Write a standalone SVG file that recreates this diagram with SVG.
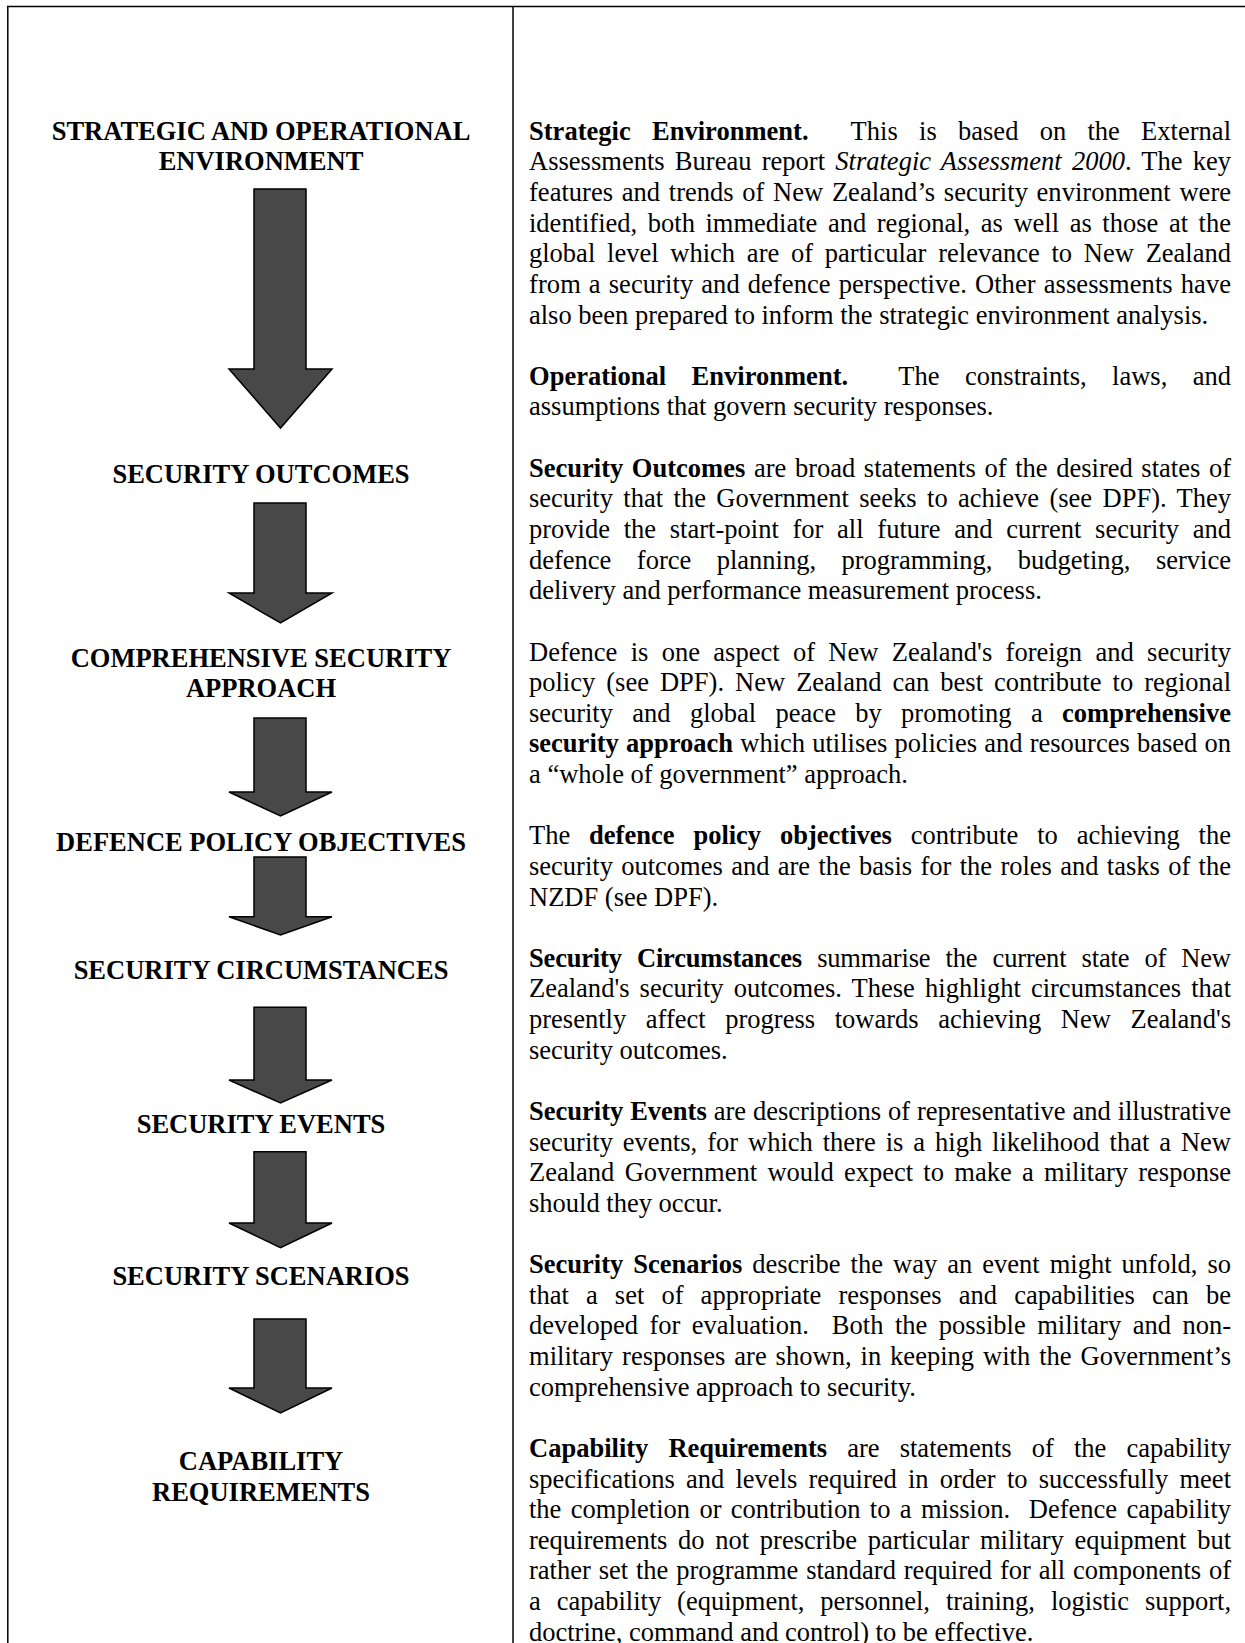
<svg xmlns="http://www.w3.org/2000/svg" width="1245" height="1643" viewBox="0 0 1245 1643">
<style>
  .frame { stroke: #000; stroke-width: 1.5; fill: none; }
  .lbl { font-family: "Liberation Serif", "Times New Roman", serif; font-size: 26.5px; font-weight: bold; text-anchor: middle; fill: #000; }
  .txt { font-family: "Liberation Serif", "Times New Roman", serif; font-size: 26.5px; fill: #000; }
  .b { font-weight: bold; }
  .i { font-style: italic; }
  .arrow { fill: #484848; stroke: #000; stroke-width: 1.5; stroke-linejoin: miter; }
</style>
<rect width="1245" height="1643" fill="#fff"/>
<g id="frame">
  <line class="frame" x1="7" y1="6.5" x2="1245" y2="6.5"/>
  <line class="frame" x1="7.8" y1="6" x2="7.8" y2="1643"/>
  <line class="frame" x1="513" y1="6" x2="513" y2="1643"/>
</g>
<g id="connectors">
  <path class="arrow" d="M254,189 H306 V369 H332 L280.5,428 L229,369 H254 Z"/>
  <path class="arrow" d="M254,503 H306 V593 H332 L280.5,623 L229,593 H254 Z"/>
  <path class="arrow" d="M254,718 H306 V792 H332 L280.5,816 L229,792 H254 Z"/>
  <path class="arrow" d="M254,857 H306 V916.7 H332 L280.5,935 L229,916.7 H254 Z"/>
  <path class="arrow" d="M254,1007.3 H306 V1080 H332 L280.5,1103 L229,1080 H254 Z"/>
  <path class="arrow" d="M254,1151.7 H306 V1223 H332 L280.5,1247.7 L229,1223 H254 Z"/>
  <path class="arrow" d="M254,1319 H306 V1388 H332 L280.5,1413 L229,1388 H254 Z"/>
</g>
<g id="node-strategic-environment">
  <text class="lbl" x="261" y="139.8">STRATEGIC AND OPERATIONAL</text>
  <text class="lbl" x="261" y="170.4">ENVIRONMENT</text>
</g>
<g id="node-security-outcomes">
  <text class="lbl" x="261" y="482.5">SECURITY OUTCOMES</text>
</g>
<g id="node-comprehensive-security">
  <text class="lbl" x="261" y="667">COMPREHENSIVE SECURITY</text>
  <text class="lbl" x="261" y="697.3">APPROACH</text>
</g>
<g id="node-defence-policy">
  <text class="lbl" x="261" y="851.4">DEFENCE POLICY OBJECTIVES</text>
</g>
<g id="node-security-circumstances">
  <text class="lbl" x="261" y="979.2">SECURITY CIRCUMSTANCES</text>
</g>
<g id="node-security-events">
  <text class="lbl" x="261" y="1133.3">SECURITY EVENTS</text>
</g>
<g id="node-security-scenarios">
  <text class="lbl" x="261" y="1285">SECURITY SCENARIOS</text>
</g>
<g id="node-capability-requirements">
  <text class="lbl" x="261" y="1469.7">CAPABILITY</text>
  <text class="lbl" x="261" y="1501.1">REQUIREMENTS</text>
</g>
<g id="desc-strategic">
  <text class="txt" x="529" y="139.8" textLength="702" lengthAdjust="spacing" xml:space="preserve" style="word-spacing:14.6px"><tspan class="b">Strategic Environment.</tspan>  This is based on the External</text>
  <text class="txt" x="529" y="170.43" textLength="702" lengthAdjust="spacing" style="word-spacing:3.56px">Assessments Bureau report <tspan class="i">Strategic Assessment 2000</tspan>. The key</text>
  <text class="txt" x="529" y="201.06" textLength="702" lengthAdjust="spacing" style="word-spacing:2.02px">features and trends of New Zealand’s security environment were</text>
  <text class="txt" x="529" y="231.69" textLength="702" lengthAdjust="spacing" style="word-spacing:3.96px">identified, both immediate and regional, as well as those at the</text>
  <text class="txt" x="529" y="262.32" textLength="702" lengthAdjust="spacing" style="word-spacing:5.15px">global level which are of particular relevance to New Zealand</text>
  <text class="txt" x="529" y="292.95" textLength="702" lengthAdjust="spacing" style="word-spacing:1.26px">from a security and defence perspective. Other assessments have</text>
  <text class="txt" x="529" y="323.58">also been prepared to inform the strategic environment analysis.</text>
</g>
<g id="desc-operational">
  <text class="txt" x="529" y="384.84" textLength="702" lengthAdjust="spacing" xml:space="preserve" style="word-spacing:18.7px"><tspan class="b">Operational Environment.</tspan>  The constraints, laws, and</text>
  <text class="txt" x="529" y="415.47">assumptions that govern security responses.</text>
</g>
<g id="desc-outcomes">
  <text class="txt" x="529" y="476.73" textLength="702" lengthAdjust="spacing" style="word-spacing:2.03px"><tspan class="b">Security Outcomes</tspan> are broad statements of the desired states of</text>
  <text class="txt" x="529" y="507.36" textLength="702" lengthAdjust="spacing" style="word-spacing:3.75px">security that the Government seeks to achieve (see DPF). They</text>
  <text class="txt" x="529" y="537.99" textLength="702" lengthAdjust="spacing" style="word-spacing:7.1px">provide the start-point for all future and current security and</text>
  <text class="txt" x="529" y="568.62" textLength="702" lengthAdjust="spacing" style="word-spacing:18.8px">defence force planning, programming, budgeting, service</text>
  <text class="txt" x="529" y="599.25">delivery and performance measurement process.</text>
</g>
<g id="desc-comprehensive">
  <text class="txt" x="529" y="660.51" textLength="702" lengthAdjust="spacing" style="word-spacing:6.74px">Defence is one aspect of New Zealand's foreign and security</text>
  <text class="txt" x="529" y="691.14" textLength="702" lengthAdjust="spacing" style="word-spacing:4.4px">policy (see DPF). New Zealand can best contribute to regional</text>
  <text class="txt" x="529" y="721.77" textLength="702" lengthAdjust="spacing" style="word-spacing:12.7px">security and global peace by promoting a <tspan class="b">comprehensive</tspan></text>
  <text class="txt" x="529" y="752.4" textLength="702" lengthAdjust="spacing" style="word-spacing:0.53px"><tspan class="b">security approach</tspan> which utilises policies and resources based on</text>
  <text class="txt" x="529" y="783.03">a “whole of government” approach.</text>
</g>
<g id="desc-defence-policy">
  <text class="txt" x="529" y="844.29" textLength="702" lengthAdjust="spacing" style="word-spacing:12.3px">The <tspan class="b">defence policy objectives</tspan> contribute to achieving the</text>
  <text class="txt" x="529" y="874.92" textLength="702" lengthAdjust="spacing" style="word-spacing:1.71px">security outcomes and are the basis for the roles and tasks of the</text>
  <text class="txt" x="529" y="905.55">NZDF (see DPF).</text>
</g>
<g id="desc-circumstances">
  <text class="txt" x="529" y="966.81" textLength="702" lengthAdjust="spacing" style="word-spacing:8.75px"><tspan class="b">Security Circumstances</tspan> summarise the current state of New</text>
  <text class="txt" x="529" y="997.44" textLength="702" lengthAdjust="spacing" style="word-spacing:3.47px">Zealand's security outcomes. These highlight circumstances that</text>
  <text class="txt" x="529" y="1028.07" textLength="702" lengthAdjust="spacing" style="word-spacing:12.9px">presently affect progress towards achieving New Zealand's</text>
  <text class="txt" x="529" y="1058.7">security outcomes.</text>
</g>
<g id="desc-events">
  <text class="txt" x="529" y="1119.96" textLength="702" lengthAdjust="spacing" style="word-spacing:0.3px"><tspan class="b">Security Events</tspan> are descriptions of representative and illustrative</text>
  <text class="txt" x="529" y="1150.59" textLength="702" lengthAdjust="spacing" style="word-spacing:3.34px">security events, for which there is a high likelihood that a New</text>
  <text class="txt" x="529" y="1181.22" textLength="702" lengthAdjust="spacing" style="word-spacing:3.66px">Zealand Government would expect to make a military response</text>
  <text class="txt" x="529" y="1211.85">should they occur.</text>
</g>
<g id="desc-scenarios">
  <text class="txt" x="529" y="1273.11" textLength="702" lengthAdjust="spacing" style="word-spacing:3.42px"><tspan class="b">Security Scenarios</tspan> describe the way an event might unfold, so</text>
  <text class="txt" x="529" y="1303.74" textLength="702" lengthAdjust="spacing" style="word-spacing:10.5px">that a set of appropriate responses and capabilities can be</text>
  <text class="txt" x="529" y="1334.37" textLength="702" lengthAdjust="spacing" xml:space="preserve" style="word-spacing:4.89px">developed for evaluation.  Both the possible military and non-</text>
  <text class="txt" x="529" y="1365" textLength="702" lengthAdjust="spacing" style="word-spacing:2.28px">military responses are shown, in keeping with the Government’s</text>
  <text class="txt" x="529" y="1395.63">comprehensive approach to security.</text>
</g>
<g id="desc-capability">
  <text class="txt" x="529" y="1456.89" textLength="702" lengthAdjust="spacing" style="word-spacing:13.5px"><tspan class="b">Capability Requirements</tspan> are statements of the capability</text>
  <text class="txt" x="529" y="1487.52" textLength="702" lengthAdjust="spacing" style="word-spacing:4.59px">specifications and levels required in order to successfully meet</text>
  <text class="txt" x="529" y="1518.15" textLength="702" lengthAdjust="spacing" xml:space="preserve" style="word-spacing:2.76px">the completion or contribution to a mission.  Defence capability</text>
  <text class="txt" x="529" y="1548.78" textLength="702" lengthAdjust="spacing" style="word-spacing:4.08px">requirements do not prescribe particular military equipment but</text>
  <text class="txt" x="529" y="1579.41" textLength="702" lengthAdjust="spacing" style="word-spacing:1.22px">rather set the programme standard required for all components of</text>
  <text class="txt" x="529" y="1610.04" textLength="702" lengthAdjust="spacing" style="word-spacing:9.3px">a capability (equipment, personnel, training, logistic support,</text>
  <text class="txt" x="529" y="1640.67">doctrine, command and control) to be effective.</text>
</g>
</svg>
